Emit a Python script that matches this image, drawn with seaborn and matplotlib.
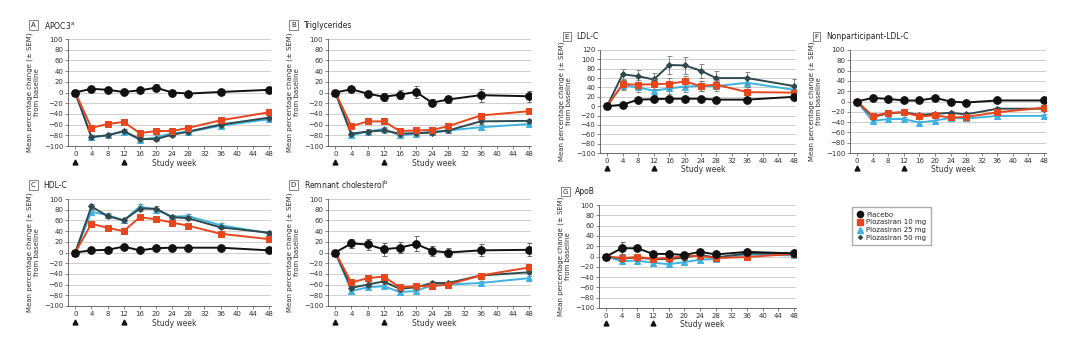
import numpy as np
import pandas as pd
import matplotlib
matplotlib.use("Agg")
import matplotlib.pyplot as plt
import seaborn as sns

weeks = [0, 4, 8, 12, 16, 20, 24, 28, 36, 48]
groups = ["Placebo", "Plozasiran 10 mg", "Plozasiran 25 mg", "Plozasiran 50 mg"]

# Panel A: APOC3
apoc3_placebo = [0, 7, 5, 1, 4, 9, 0, -2, 1, 5]
apoc3_10 = [0, -66, -59, -55, -76, -72, -72, -66, -52, -37]
apoc3_25 = [0, -84, -80, -73, -88, -84, -76, -74, -62, -50]
apoc3_50 = [0, -83, -80, -72, -87, -87, -79, -73, -60, -47]
apoc3_sem_placebo = [0, 3, 3, 4, 4, 7, 4, 4, 5, 6]

# Panel B: Triglycerides
tg_placebo = [0, 6, -2, -8, -4, 1, -19, -13, -5, -7]
tg_10 = [0, -63, -54, -54, -72, -71, -70, -63, -43, -35]
tg_25 = [0, -80, -73, -68, -80, -77, -73, -71, -65, -59]
tg_50 = [0, -77, -73, -71, -77, -76, -75, -71, -54, -53]
tg_sem_placebo = [0, 5, 5, 8, 9, 12, 6, 6, 12, 10]

# Panel C: HDL-C
hdl_placebo = [0, 4, 5, 11, 4, 8, 9, 9, 9, 4]
hdl_10 = [0, 54, 46, 40, 66, 62, 56, 50, 35, 25]
hdl_25 = [0, 76, 70, 60, 86, 80, 67, 68, 51, 36]
hdl_50 = [0, 86, 68, 60, 82, 82, 66, 64, 47, 37]
hdl_sem_placebo = [0, 3, 3, 4, 3, 3, 3, 3, 3, 3]

# Panel D: Remnant cholesterol
rc_placebo = [0, 17, 15, 6, 9, 16, 3, 0, 4, 5]
rc_10 = [0, -56, -48, -45, -65, -63, -63, -60, -43, -28]
rc_25 = [0, -72, -65, -63, -74, -72, -61, -60, -57, -48]
rc_50 = [0, -66, -60, -54, -68, -65, -57, -57, -43, -37]
rc_sem_placebo = [0, 8, 10, 12, 10, 14, 10, 9, 11, 12]

# Panel E: LDL-C
ldl_placebo = [0, 3, 14, 15, 16, 16, 16, 14, 14, 20]
ldl_10 = [0, 47, 46, 47, 48, 53, 43, 46, 30, 29]
ldl_25 = [0, 45, 40, 33, 38, 42, 43, 43, 50, 35]
ldl_50 = [0, 68, 64, 57, 88, 87, 76, 60, 60, 43]
ldl_sem_placebo = [0, 3, 4, 4, 4, 4, 4, 4, 4, 6]

# Panel F: Nonparticipant-LDL-C
np_placebo = [0, 7, 5, 2, 2, 7, 0, -2, 2, 2]
np_10 = [0, -28, -22, -21, -29, -27, -31, -30, -21, -12]
np_25 = [0, -38, -34, -34, -41, -37, -32, -33, -28, -28]
np_50 = [0, -30, -23, -21, -26, -24, -22, -25, -14, -14]
np_sem_placebo = [0, 3, 3, 3, 3, 3, 3, 3, 3, 4]

# Panel G: ApoB
apob_placebo = [0, 16, 16, 5, 5, 3, 9, 4, 9, 6]
apob_10 = [0, -3, -1, -4, -3, 1, 1, -3, -1, 5]
apob_25 = [0, -9, -8, -12, -15, -11, -6, -5, 4, 2]
apob_50 = [0, -4, -2, -5, -5, -2, 3, -2, 6, 6]
apob_sem_placebo = [0, 12, 4, 4, 3, 3, 4, 3, 3, 3]

drug_sem = [0, 4, 4, 4, 4, 4, 4, 4, 4, 4]
ldl50_sem = [0, 12, 14, 13, 20, 18, 15, 15, 13, 14]
ldl_drug_sem = [0, 10, 10, 10, 12, 12, 10, 10, 10, 8]

x_ticks = [0, 4, 8, 12, 16, 20, 24, 28, 32, 36, 40, 44, 48]

panels = [
    ("A", "APOC3$^{\\mathrm{a}}$", [apoc3_placebo, apoc3_10, apoc3_25, apoc3_50], [apoc3_sem_placebo, drug_sem, drug_sem, drug_sem], (68, 39, 271, 146), (-100, 100)),
    ("B", "Triglycerides", [tg_placebo, tg_10, tg_25, tg_50], [tg_sem_placebo, drug_sem, drug_sem, drug_sem], (328, 39, 531, 146), (-100, 100)),
    ("C", "HDL-C", [hdl_placebo, hdl_10, hdl_25, hdl_50], [hdl_sem_placebo, drug_sem, drug_sem, drug_sem], (68, 199, 271, 306), (-100, 100)),
    ("D", "Remnant cholesterol$^{\\mathrm{b}}$", [rc_placebo, rc_10, rc_25, rc_50], [rc_sem_placebo, drug_sem, drug_sem, drug_sem], (328, 199, 531, 306), (-100, 100)),
    ("E", "LDL-C", [ldl_placebo, ldl_10, ldl_25, ldl_50], [ldl_sem_placebo, ldl_drug_sem, ldl_drug_sem, ldl50_sem], (600, 50, 796, 153), (-100, 120)),
    ("F", "Nonparticipant-LDL-C", [np_placebo, np_10, np_25, np_50], [np_sem_placebo, drug_sem, drug_sem, drug_sem], (850, 50, 1046, 153), (-100, 100)),
    ("G", "ApoB", [apob_placebo, apob_10, apob_25, apob_50], [apob_sem_placebo, drug_sem, drug_sem, drug_sem], (599, 205, 796, 308), (-100, 100)),
]

colors = {"Placebo": "#111111", "Plozasiran 10 mg": "#e8461c",
          "Plozasiran 25 mg": "#3db3e3", "Plozasiran 50 mg": "#2f4a4f"}
markers = {"Placebo": "o", "Plozasiran 10 mg": "s",
           "Plozasiran 25 mg": "^", "Plozasiran 50 mg": "D"}
msizes = {"Placebo": 5.5, "Plozasiran 10 mg": 5, "Plozasiran 25 mg": 5, "Plozasiran 50 mg": 3}
draw_order = ["Plozasiran 25 mg", "Plozasiran 50 mg", "Plozasiran 10 mg", "Placebo"]

sns.set_theme(style="white")
plt.rcParams["font.family"] = ["DejaVu Sans"]

W, H = 1080, 337
fig = plt.figure(figsize=(W / 100, H / 100), dpi=100)

for letter, title, series, sems, (l, t, r, b), ylim in panels:
    ax = fig.add_axes([l / W, 1 - b / H, (r - l) / W, (b - t) / H])
    rows = []
    for g, vals, se in zip(groups, series, sems):
        for w, v, s in zip(weeks, vals, se):
            rows.append({"week": w, "value": v, "sem": s, "group": g})
    df = pd.DataFrame(rows)
    for z, g in enumerate(draw_order):
        d = df[df["group"] == g]
        ax.errorbar(d["week"], d["value"], yerr=d["sem"], fmt="none",
                    ecolor="#777777" if g != "Placebo" else "#555555",
                    elinewidth=0.6, capsize=1.8, capthick=0.6, zorder=2 + z)
        sns.lineplot(data=d, x="week", y="value", ax=ax, color=colors[g],
                     marker=markers[g], markersize=msizes[g], linewidth=1.4,
                     markeredgecolor=colors[g], zorder=3 + z, legend=False,
                     errorbar=None)
    ax.set_xlim(-1.8, 48.5)
    ax.set_ylim(*ylim)
    ax.set_yticks(np.arange(ylim[0], ylim[1] + 1, 20))
    ax.set_xticks(x_ticks)
    ax.yaxis.grid(True, color="#c8c8c8", linewidth=0.6)
    ax.xaxis.grid(False)
    for s in ["top", "right"]:
        ax.spines[s].set_visible(False)
    for s in ["left", "bottom"]:
        ax.spines[s].set_color("#555555")
        ax.spines[s].set_linewidth(0.6)
    ax.tick_params(axis="both", labelsize=5, length=2, width=0.5,
                   color="#555555", pad=1.5, labelcolor="#333333",
                   left=True, bottom=True)
    ax.set_xlabel("")
    ax.set_ylabel("Mean percentage change (± SEM)\nfrom baseline",
                  fontsize=5, color="#333333", labelpad=3, linespacing=1.1)
    ax.text(19, -0.12, "Study week", transform=ax.get_xaxis_transform(),
            fontsize=5.5, color="#333333", ha="left", va="top")
    for aw in [0, 12]:
        ax.plot([aw], [-0.15], marker="^", color="#111111", markersize=3.5,
                transform=ax.get_xaxis_transform(), clip_on=False)
    # panel label
    ax.text(-0.17, 1.13, letter, transform=ax.transAxes, fontsize=5,
            ha="center", va="center", color="#222222",
            bbox=dict(boxstyle="square,pad=0.25", fc="white", ec="#555555", lw=0.5))
    ax.text(-0.12, 1.13, title, transform=ax.transAxes, fontsize=5.5,
            ha="left", va="center", color="#222222")

from matplotlib.lines import Line2D
handles = [Line2D([], [], color=colors[g], marker=markers[g], linestyle="none",
                  markersize=msizes[g] - 1) for g in groups]
fig.legend(handles, groups, loc="upper left", bbox_to_anchor=(849 / W, 1 - 204 / H),
           fontsize=5, frameon=True, edgecolor="#999999", fancybox=False,
           handletextpad=0.4, borderpad=0.6, labelspacing=0.25, handlelength=1)

fig.savefig("out.png", dpi=100)
